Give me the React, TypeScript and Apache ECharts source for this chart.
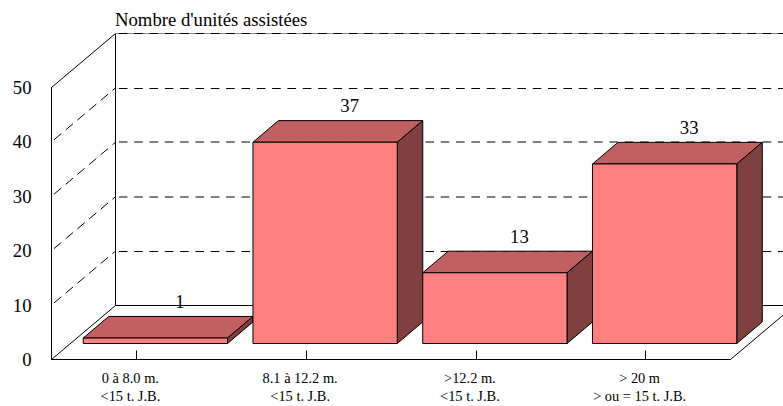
import React, { useEffect, useRef } from "react";
import * as echarts from "echarts";

const title = "Nombre d'unités assistées";
const categories = ["0 à 8.0 m.\n<15 t. J.B.", "8.1 à 12.2 m.\n<15 t. J.B.", ">12.2 m.\n<15 t. J.B.", "> 20 m\n> ou = 15 t. J.B."];
const values = [1, 37, 13, 33];
const yTicks = [0, 10, 20, 30, 40, 50];

const FONT = '"Liberation Serif", "Times New Roman", serif';
const WALL_DX = 64;
const WALL_DY = -54;
const BAR_OFFSET_X = 19;
const BAR_OFFSET_Y = -16;
const BAR_DX = 25.5;
const BAR_DY = -21.6;

export default function App() {
  const ref = useRef<HTMLDivElement>(null);
  useEffect(() => {
    document.body.style.margin = "0";
    const chart = echarts.init(ref.current!, null, { renderer: "svg" });
    chart.setOption({
      animation: false,
      backgroundColor: "#ffffff",
      title: {
        text: title,
        left: 115,
        top: 10,
        padding: 0,
        textStyle: { fontFamily: FONT, fontSize: 18.7, fontWeight: "normal", color: "#000" },
      },
      grid: { left: 51.5, width: 679, top: 87.5, height: 272 },
      xAxis: {
        type: "category",
        data: categories,
        axisLine: { show: true, lineStyle: { color: "#000", width: 1 } },
        axisTick: { show: true, alignWithLabel: true, inside: true, length: 9, lineStyle: { color: "#000", width: 1 } },
        axisLabel: { interval: 0, fontFamily: FONT, fontSize: 14.4, color: "#000", margin: 9, lineHeight: 18, padding: [0, 12, 0, 0] },
      },
      yAxis: {
        type: "value",
        min: 0,
        max: 50,
        interval: 10,
        axisLine: { show: true, lineStyle: { color: "#000", width: 1 } },
        axisTick: { show: false },
        splitLine: { show: false },
        axisLabel: { fontFamily: FONT, fontSize: 18.7, color: "#000", margin: 20 },
      },
      series: [
        {
          type: "custom",
          coordinateSystem: "cartesian2d",
          data: yTicks.map((v) => [0, v]),
          z: 1,
          renderItem: (params: any, api: any) => {
            const v = api.value(1);
            const y = api.coord([0, v])[1];
            const left = params.coordSys.x;
            const right = left + params.coordSys.width;
            const dash = { stroke: "#000", lineWidth: 1, lineDash: [8.6, 6.73], lineDashOffset: 11.8 };
            const sideDash = { stroke: "#000", lineWidth: 1, lineDash: [9.5, 5.8], lineDashOffset: 12.3 };
            const solid = { stroke: "#000", lineWidth: 1 };
            const rawBack = y + WALL_DY;
            const backY = v === 0 || v === 50 ? rawBack : v === 20 || v === 30 ? Math.round(rawBack) : Math.round(rawBack) + 0.5;
            const bx = left + WALL_DX;
            const children: any[] = [];
            if (v === 0) {
              children.push(
                { type: "line", shape: { x1: left, y1: y, x2: bx, y2: backY }, style: solid },
                { type: "line", shape: { x1: bx, y1: backY, x2: right + WALL_DX, y2: backY }, style: solid },
                { type: "line", shape: { x1: right, y1: y, x2: right + WALL_DX, y2: backY }, style: solid },
              );
            } else if (v === 50) {
              children.push(
                { type: "line", shape: { x1: left, y1: y, x2: bx, y2: backY }, style: solid },
                { type: "line", shape: { x1: bx, y1: backY, x2: bx, y2: api.coord([0, 0])[1] + WALL_DY }, style: solid },
                { type: "line", shape: { x1: bx, y1: backY, x2: right + WALL_DX, y2: backY }, style: { stroke: "#888", lineWidth: 1 } },
                { type: "line", shape: { x1: bx, y1: backY, x2: right + WALL_DX, y2: backY }, style: dash },
              );
            } else {
              children.push(
                { type: "line", shape: { x1: left, y1: y, x2: bx, y2: rawBack }, style: sideDash },
                { type: "line", shape: { x1: bx, y1: backY, x2: right + WALL_DX, y2: backY }, style: dash },
              );
            }
            return { type: "group", children };
          },
        },
        {
          type: "custom",
          coordinateSystem: "cartesian2d",
          data: values.map((v, i) => [i, v]),
          z: 2,
          renderItem: (_: any, api: any) => {
            const i = api.value(0);
            const v = api.value(1);
            const w = api.size([1, 0])[0] * 0.85;
            const base = api.coord([i, 0]);
            const top = api.coord([i, v]);
            const cx = base[0] + BAR_OFFSET_X;
            const l = cx - w / 2;
            const r = cx + w / 2;
            const b = base[1] + BAR_OFFSET_Y;
            const t = top[1] + BAR_OFFSET_Y;
            const stroke = { stroke: "#000", lineWidth: 1, lineJoin: "round" };
            return {
              type: "group",
              children: [
                { type: "polygon", shape: { points: [[l, t], [l + BAR_DX, t + BAR_DY], [r + BAR_DX, t + BAR_DY], [r, t]] }, style: { fill: "#c06060", ...stroke } },
                { type: "polygon", shape: { points: [[r, t], [r + BAR_DX, t + BAR_DY], [r + BAR_DX, b + BAR_DY], [r, b]] }, style: { fill: "#804040", ...stroke } },
                { type: "polygon", shape: { points: [[l, t], [r, t], [r, b], [l, b]] }, style: { fill: "#ff8080", ...stroke } },
                {
                  type: "text",
                  style: {
                    x: cx + BAR_DX - 1,
                    y: t + BAR_DY - 15,
                    text: String(v),
                    fill: "#000",
                    font: `18.7px ${FONT}`,
                    textAlign: "center",
                    textVerticalAlign: "middle",
                  },
                },
              ],
            };
          },
        },
      ],
    });
    return () => chart.dispose();
  }, []);
  return <div ref={ref} style={{ width: 783, height: 406 }} />;
}
